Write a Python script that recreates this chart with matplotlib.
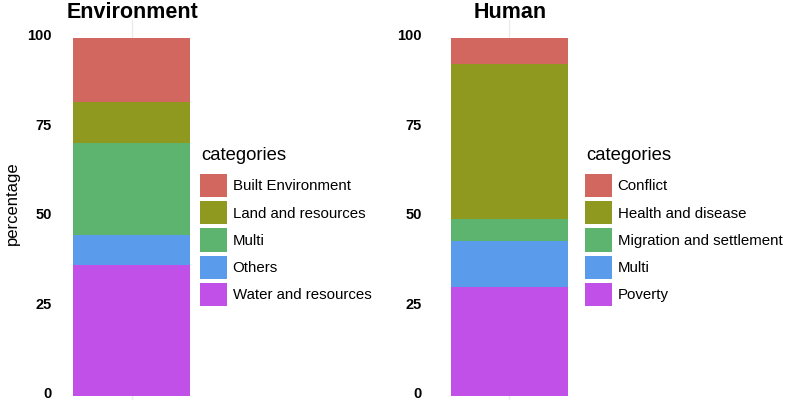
import matplotlib.pyplot as plt
import matplotlib.transforms as mtransforms
from matplotlib.patches import Patch

plt.rcParams['font.family'] = ['Liberation Sans', 'DejaVu Sans']

# data (percent), listed top of bar -> bottom
env_cats = ["Built Environment", "Land and resources", "Multi", "Others", "Water and resources"]
env_vals = [18.0, 11.5, 25.7, 8.4, 36.4]

hum_cats = ["Conflict", "Health and disease", "Migration and settlement", "Multi", "Poverty"]
hum_vals = [7.4, 43.3, 6.1, 12.7, 30.5]

yticks = [0, 25, 50, 75, 100]
colors = ["#D1675F", "#8F981F", "#5CB46E", "#5A9BEC", "#C050E8"]

W, H = 787, 400
fig = plt.figure(figsize=(W / 100, H / 100), dpi=100)


def panel(left_px, cats, vals, title, legend_x, pad):
    ax = fig.add_axes([left_px / W, 0, 156.4 / W, 380 / H])
    ax.set_xlim(-0.6, 0.6)
    ax.set_ylim(-1.2, 105)
    ax.axvline(0, color="#EBEBEB", lw=1, zorder=0)
    bottom = 0
    # stack from the last category upwards
    for cat, v, c in reversed(list(zip(cats, vals, colors))):
        ax.bar(0, v, width=0.9, bottom=bottom, color=c, zorder=2)
        bottom += v
    ax.set_yticks(yticks)
    ax.set_yticklabels([str(t) for t in yticks], fontweight="bold", fontsize=10.5)
    ax.tick_params(axis="y", length=0, pad=pad)
    # nudge labels up a little so the "0" is not clipped
    off = mtransforms.ScaledTranslation(0, 3 / 100, fig.dpi_scale_trans)
    for lab in ax.get_yticklabels():
        lab.set_transform(lab.get_transform() + off)
    ax.set_xticks([])
    for s in ax.spines.values():
        s.set_visible(False)
    fig.text((left_px + 79) / W, 1 - 12.5 / H, title, ha="center", va="center",
             fontsize=15.5, fontweight="bold")
    # legend title drawn separately to get the wider gap above the keys
    fig.text((legend_x + 1.5) / W, 1 - 155.7 / H, "categories", ha="left", va="center",
             fontsize=13.3)
    handles = [Patch(facecolor=c, edgecolor="none") for c in colors]
    fig.legend(handles, cats, loc="upper left",
               bbox_to_anchor=(legend_x / W, 1 - 174 / H), frameon=False,
               fontsize=10.8, borderpad=0, borderaxespad=0,
               handlelength=1.78, handleheight=2.0, labelspacing=0.27,
               handletextpad=0.4)
    return ax


panel(53.5, env_cats, env_vals, "Environment", 200, 1.4)
panel(431.1, hum_cats, hum_vals, "Human", 585, 6.5)

fig.text(12.3 / W, 1 - 203 / H, "percentage", rotation=90, ha="center", va="center",
         fontsize=12)

fig.savefig("out.png", dpi=100)
